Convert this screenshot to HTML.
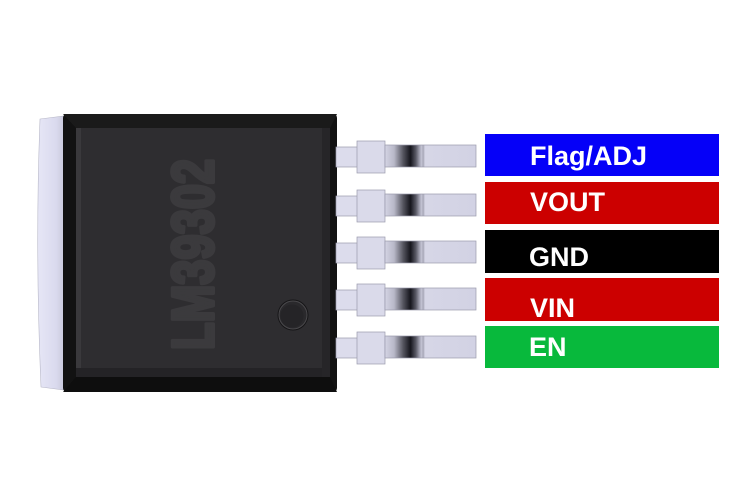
<!DOCTYPE html>
<html><head><meta charset="utf-8"><style>
html,body{margin:0;padding:0;background:#fff;}
body{width:750px;height:500px;overflow:hidden;position:relative;}
svg{position:absolute;left:0;top:0;}
</style></head><body>
<svg width="750" height="500" viewBox="0 0 750 500" xmlns="http://www.w3.org/2000/svg">
<defs>
<linearGradient id="tab" x1="0" x2="1" y1="0" y2="0">
<stop offset="0" stop-color="#e6e6f6"/><stop offset="0.7" stop-color="#dadaee"/><stop offset="1" stop-color="#c9c9dc"/>
</linearGradient>
<linearGradient id="lead" x1="385" x2="476" y1="0" y2="0" gradientUnits="userSpaceOnUse">
<stop offset="0" stop-color="#d4d4e4"/>
<stop offset="0.10" stop-color="#b8b8c8"/>
<stop offset="0.20" stop-color="#55555f"/>
<stop offset="0.28" stop-color="#15151c"/>
<stop offset="0.34" stop-color="#5a5a66"/>
<stop offset="0.40" stop-color="#c4c4d4"/>
<stop offset="0.42" stop-color="#a8a8b8"/>
<stop offset="0.44" stop-color="#d6d6e6"/>
<stop offset="1" stop-color="#d2d2e4"/>
</linearGradient>
</defs>

<!-- left tab -->
<path d="M40 119 L64 116 L64 390 L41 387 Q35 250 40 119 Z" fill="url(#tab)" stroke="#b8b8c8" stroke-width="0.6"/>

<!-- chip body -->
<rect x="63" y="114" width="274" height="278" rx="4" fill="#121212"/>
<polygon points="63,114 337,114 330,128 76,128" fill="#1a1a1a"/>
<polygon points="63,392 337,392 330,377 76,377" fill="#0e0e0e"/>
<rect x="76" y="128" width="254" height="249" fill="#2e2d30"/>
<rect x="76" y="128" width="5" height="249" fill="#3a393c"/>
<rect x="76" y="368" width="254" height="9" fill="#242326"/>
<rect x="322" y="128" width="8" height="249" fill="#262528"/>

<!-- marking text -->
<text transform="translate(213,350) rotate(-90) scale(0.78,1)" font-family="'Liberation Sans',sans-serif" font-weight="bold" font-size="58" fill="#3b3a3d" stroke="#3b3a3d" stroke-width="4" stroke-linejoin="round">LM39302</text>

<!-- dimple -->
<circle cx="293" cy="315" r="15.5" fill="#151416"/>
<circle cx="293" cy="315" r="14" fill="#2a292c" stroke="#4a494c" stroke-width="1"/>
<circle cx="292" cy="316" r="11.5" fill="#252427"/>

<!-- pins -->
<g stroke="#9a9aac" stroke-width="0.7">
<g transform="translate(0,157)">
<rect x="336" y="-10" width="22" height="20" fill="#dcdcec"/>
<rect x="357" y="-16" width="28" height="32" fill="#dadaea"/>
<rect x="385" y="-12" width="91" height="22" fill="url(#lead)"/>
</g>
<g transform="translate(0,206)">
<rect x="336" y="-10" width="22" height="20" fill="#dcdcec"/>
<rect x="357" y="-16" width="28" height="32" fill="#dadaea"/>
<rect x="385" y="-12" width="91" height="22" fill="url(#lead)"/>
</g>
<g transform="translate(0,253)">
<rect x="336" y="-10" width="22" height="20" fill="#dcdcec"/>
<rect x="357" y="-16" width="28" height="32" fill="#dadaea"/>
<rect x="385" y="-12" width="91" height="22" fill="url(#lead)"/>
</g>
<g transform="translate(0,300)">
<rect x="336" y="-10" width="22" height="20" fill="#dcdcec"/>
<rect x="357" y="-16" width="28" height="32" fill="#dadaea"/>
<rect x="385" y="-12" width="91" height="22" fill="url(#lead)"/>
</g>
<g transform="translate(0,348)">
<rect x="336" y="-10" width="22" height="20" fill="#dcdcec"/>
<rect x="357" y="-16" width="28" height="32" fill="#dadaea"/>
<rect x="385" y="-12" width="91" height="22" fill="url(#lead)"/>
</g>
</g>

<!-- labels -->
<rect x="485" y="134" width="234" height="42" fill="#0500f8"/>
<rect x="485" y="182" width="234" height="42" fill="#cc0000"/>
<rect x="485" y="230" width="234" height="43" fill="#000000"/>
<rect x="485" y="278" width="234" height="43" fill="#cc0000"/>
<rect x="485" y="326" width="234" height="42" fill="#08b93c"/>
<g font-family="'Liberation Sans',sans-serif" font-weight="bold" font-size="27" fill="#ffffff">
<text x="530" y="165">Flag/ADJ</text>
<text x="530" y="211">VOUT</text>
<text x="529" y="266">GND</text>
<text x="530" y="317">VIN</text>
<text x="529" y="356">EN</text>
</g>
</svg>
</body></html>
